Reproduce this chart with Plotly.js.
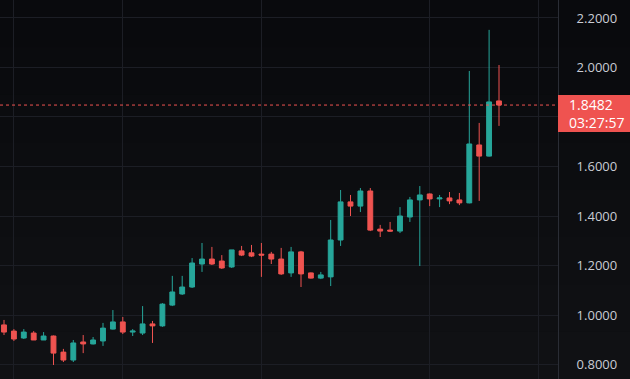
<!DOCTYPE html>
<html>
<head>
<meta charset="utf-8">
<script src="https://cdn.plot.ly/plotly-3.0.1.min.js"></script>
<style>
  html, body { margin: 0; padding: 0; background: #0c0d11; }
  #chart { width: 630px; height: 379px; }
</style>
</head>
<body>
<div id="chart"></div>
<script>
// OHLC values (one candle per period)
const open  = [0.960,0.935,0.907,0.927,0.899,0.915,0.850,0.818,0.891,0.883,0.895,0.943,0.972,0.931,0.927,0.964,0.956,1.040,1.085,1.113,1.206,1.226,1.218,1.194,1.259,1.251,1.246,1.246,1.226,1.170,1.255,1.170,1.149,1.154,1.303,1.457,1.440,1.501,1.347,1.343,1.339,1.396,1.465,1.489,1.469,1.473,1.465,1.453,1.687,1.642,1.865];
const high  = [0.980,0.943,0.943,0.935,0.931,0.917,0.863,0.899,0.919,0.911,0.968,1.020,0.992,0.943,1.036,0.976,1.048,1.158,1.158,1.230,1.291,1.275,1.242,1.263,1.279,1.283,1.291,1.255,1.271,1.275,1.259,1.172,1.174,1.384,1.505,1.485,1.513,1.513,1.364,1.376,1.436,1.477,1.521,1.491,1.485,1.497,1.493,1.986,1.776,2.152,2.010];
const low   = [0.919,0.895,0.903,0.899,0.899,0.798,0.810,0.810,0.846,0.881,0.875,0.941,0.923,0.915,0.919,0.887,0.952,1.036,1.081,1.109,1.174,1.202,1.186,1.190,1.238,1.234,1.154,1.206,1.162,1.154,1.113,1.147,1.145,1.117,1.279,1.400,1.416,1.339,1.315,1.337,1.331,1.376,1.198,1.440,1.436,1.448,1.444,1.451,1.461,1.640,1.764];
const close = [0.931,0.903,0.931,0.899,0.915,0.846,0.818,0.887,0.883,0.899,0.947,0.972,0.931,0.935,0.964,0.956,1.044,1.093,1.113,1.210,1.226,1.206,1.190,1.263,1.242,1.238,1.242,1.226,1.166,1.255,1.166,1.149,1.162,1.303,1.457,1.440,1.501,1.343,1.339,1.339,1.400,1.465,1.485,1.469,1.473,1.461,1.453,1.691,1.642,1.861,1.8482];
const period = open.map((_, i) => i);

// Axis ticks
const priceTicks = [0.8, 1.0, 1.2, 1.4, 1.6, 1.8, 2.0, 2.2];
const priceTickText = ['0.8000','1.0000','1.2000','1.4000','1.6000','','2.0000','2.2000'];
const timeGrid = [1, 12, 26, 43, 54];

const lastPrice = close[close.length - 1];
const countdown = '03:27:57';

const UP = '#26a69a', DOWN = '#ef5350';

const trace = {
  type: 'candlestick',
  x: period, open: open, high: high, low: low, close: close,
  increasing: { line: { color: UP, width: 1 }, fillcolor: UP },
  decreasing: { line: { color: DOWN, width: 1 }, fillcolor: DOWN },
  whiskerwidth: 0,
  hoverinfo: 'skip',
  showlegend: false
};

// subtle vertical background gradient (dark top -> slightly lighter bottom)
const bgBands = ['#090a0d','#0a0b0e','#0b0c0f','#0c0d10','#0d0e11','#0e0f12','#0f1013','#101114'];
const bgShapes = bgBands.map((c, k) => ({
  type: 'rect', xref: 'paper', yref: 'paper', layer: 'below',
  x0: 0, x1: 630 / 558,
  y0: 1 - (k + 1) / bgBands.length, y1: 1 - k / bgBands.length,
  fillcolor: c, line: { width: 0 }
}));

const layout = {
  width: 630, height: 379,
  margin: { l: 0, r: 72, t: 0, b: 0, pad: 0 },
  paper_bgcolor: '#0c0d11',
  plot_bgcolor: 'rgba(0,0,0,0)',
  showlegend: false,
  xaxis: {
    range: [-0.404, 55.96],
    rangeslider: { visible: false },
    tickvals: timeGrid,
    showticklabels: false,
    ticks: '',
    showgrid: true, gridcolor: '#1c1e25', gridwidth: 1,
    zeroline: false, showline: false, fixedrange: true
  },
  yaxis: {
    side: 'right',
    range: [0.7414, 2.2727],
    tickvals: priceTicks,
    ticktext: priceTickText,
    showgrid: true, gridcolor: '#1c1e25', gridwidth: 1,
    zeroline: false,
    showline: true, linecolor: '#2a2d35', linewidth: 1,
    ticks: 'outside', ticklen: 15, tickcolor: 'rgba(0,0,0,0)',
    tickfont: { family: 'Open Sans, sans-serif', size: 13, color: '#c9ccd4' },
    fixedrange: true
  },
  shapes: bgShapes.concat([{
    type: 'line', xref: 'paper', x0: 0, x1: 1, yref: 'y', y0: lastPrice, y1: lastPrice,
    line: { color: DOWN, width: 1, dash: 'dot' }, layer: 'above'
  }]),
  annotations: [{
    xref: 'paper', x: 1, xanchor: 'left',
    yref: 'y', y: lastPrice, yanchor: 'top', yshift: 10,
    text: ' ', showarrow: false,
    bgcolor: DOWN, borderpad: 0, borderwidth: 0,
    width: 72, height: 37,
    font: { size: 13, color: DOWN }
  }, {
    xref: 'paper', x: 1, xanchor: 'left', xshift: 11,
    yref: 'y', y: lastPrice, yanchor: 'top', yshift: 10,
    text: lastPrice.toFixed(4) + '<br>' + countdown,
    showarrow: false, align: 'left', valign: 'middle',
    borderpad: 0, borderwidth: 0,
    width: 61, height: 37,
    font: { family: 'Open Sans, sans-serif', size: 14, color: '#ffffff' }
  }]
};

Plotly.newPlot('chart', [trace], layout, { staticPlot: true, displayModeBar: false });
</script>
</body>
</html>
